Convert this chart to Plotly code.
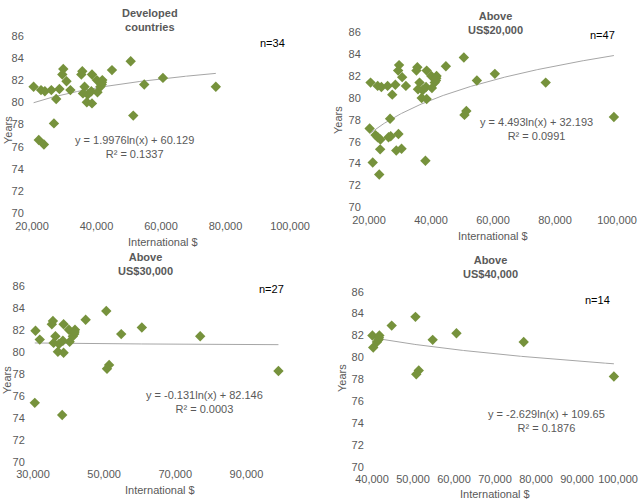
import numpy as np
import plotly.graph_objects as go

# ---------------- data ----------------
# Developed countries (34)
dev_income = [20500, 22800, 24000, 26000, 28500, 27500, 26800, 22100, 23700,
               29700, 29400, 30700, 31900, 35300, 35600, 36300, 35800, 37300,
               37000, 38600, 38400, 38600, 40100, 40300, 41200, 41600, 41800,
               41700, 44800, 50600, 51400, 54800, 60600, 77000]
dev_life = [81.4, 81.1, 81.0, 81.1, 81.2, 80.3, 78.1, 76.6, 76.2,
            83.0, 82.5, 81.9, 81.1, 82.5, 82.8, 81.4, 80.8, 80.7,
            80.0, 79.9, 81.0, 82.5, 82.0, 80.9, 81.4, 81.6, 82.0,
            81.8, 82.9, 83.7, 78.8, 81.6, 82.2, 81.4]
# Other countries above US$20,000 (13)
oth_income = [20200, 21200, 22800, 23600, 23300, 26300, 27000, 29500, 28800,
              30500, 38200, 50800, 99000]
oth_life = [77.2, 74.1, 76.4, 75.3, 73.0, 76.4, 76.5, 76.7, 75.2,
            75.35, 74.25, 78.45, 78.25]

panel_titles = ["Developed<br>countries", "Above<br>US$20,000",
                "Above<br>US$30,000", "Above<br>US$40,000"]
panel_n = ["n=34", "n=47", "n=27", "n=14"]
thresholds = [None, 20000, 30000, 40000]
fit_a = [1.9976, 4.493, -0.131, -2.629]
fit_b = [60.129, 32.193, 82.146, 109.65]
r2_text = ["0.1337", "0.0991", "0.0003", "0.1876"]
eq_text = ["y = 1.9976ln(x) + 60.129", "y = 4.493ln(x) + 32.193",
           "y = -0.131ln(x) + 82.146", "y = -2.629ln(x) + 109.65"]
x_ranges = [[20000, 100000], [20000, 100000], [30000, 100000], [40000, 100000]]
x_ticks = [[20000, 40000, 60000, 80000, 100000],
           [20000, 40000, 60000, 80000, 100000],
           [30000, 50000, 70000, 90000],
           [40000, 50000, 60000, 70000, 80000, 90000, 100000]]
y_ticks = [70, 72, 74, 76, 78, 80, 82, 84, 86]

# ---------------- layout geometry (pixels) ----------------
W, H = 639, 503
geo = [
    dict(x=(32, 290), y=(35.7, 213.3), title=(150, 20), n=(272, 43), eq=(134, 147), yt=(8, 130), xt=(163, 242)),
    dict(x=(369, 617), y=(32.3, 207.3), title=(495, 23), n=(602, 35), eq=(536, 129), yt=(338, 120), xt=(493, 236)),
    dict(x=(33, 282), y=(285.7, 461.7), title=(145, 264), n=(271, 289), eq=(204, 402), yt=(7, 380), xt=(160, 490)),
    dict(x=(372, 618), y=(291.7, 466.7), title=(490, 267), n=(597, 300), eq=(546, 421), yt=(342, 378), xt=(495, 494)),
]

GREEN = "#76923C"
GREY = "#595959"
FONT = "Liberation Sans, Arial, sans-serif"

def px(x):
    return x / W

def py(y):
    return 1 - y / H

all_income = np.array(dev_income + oth_income, dtype=float)
all_life = np.array(dev_life + oth_life, dtype=float)

fig = go.Figure()
annotations = []
for i in range(4):
    if thresholds[i] is None:
        xs = np.array(dev_income, dtype=float)
        ys = np.array(dev_life, dtype=float)
    else:
        m = all_income > thresholds[i]
        xs, ys = all_income[m], all_life[m]
    suffix = "" if i == 0 else str(i + 1)
    xa, ya = "x" + suffix, "y" + suffix
    xl = np.linspace(xs.min(), xs.max(), 200)
    yl = fit_a[i] * np.log(xl) + fit_b[i]
    fig.add_trace(go.Scatter(x=xl, y=yl, mode="lines", xaxis=xa, yaxis=ya,
                             line=dict(color="#A6A6A6", width=1), hoverinfo="skip",
                             showlegend=False))
    fig.add_trace(go.Scatter(x=xs, y=ys, mode="markers", xaxis=xa, yaxis=ya,
                             marker=dict(symbol="diamond", size=8, color=GREEN,
                                         line=dict(width=0)),
                             cliponaxis=False, showlegend=False))
    g = geo[i]
    axx = dict(domain=[px(g["x"][0]), px(g["x"][1])], range=x_ranges[i],
               tickvals=x_ticks[i], tickformat=",d", showgrid=False, zeroline=False,
               showline=False, ticks="outside", ticklen=2, tickcolor="rgba(0,0,0,0)",
               tickfont=dict(family=FONT, size=11, color=GREY),
               ticklabeloverflow="allow", automargin=False, anchor=ya)
    axy = dict(domain=[py(g["y"][1]), py(g["y"][0])], range=[70, 86],
               tickvals=y_ticks, showgrid=False, zeroline=False, showline=False,
               ticks="outside", ticklen=5, tickcolor="rgba(0,0,0,0)",
               tickfont=dict(family=FONT, size=11, color=GREY),
               ticklabeloverflow="allow", automargin=False, anchor=xa)
    fig.update_layout(**{"xaxis" + suffix: axx, "yaxis" + suffix: axy})

    def ann(text, pos, color=GREY, size=11, angle=0, bold=False):
        annotations.append(dict(text=("<b>%s</b>" % text) if bold else text,
                                x=px(pos[0]), y=py(pos[1]), xref="paper", yref="paper",
                                xanchor="center", yanchor="middle", showarrow=False,
                                textangle=angle,
                                font=dict(family=FONT, size=size, color=color)))
    ann(panel_titles[i], g["title"], bold=True)
    ann(panel_n[i], g["n"], color="#000000")
    ann(eq_text[i] + "<br>R² = " + r2_text[i], g["eq"])
    ann("Years", g["yt"], angle=-90)
    ann("International $", g["xt"])

fig.update_layout(width=W, height=H, autosize=False,
                  margin=dict(l=0, r=0, t=0, b=0),
                  paper_bgcolor="white", plot_bgcolor="white",
                  annotations=annotations, showlegend=False)

fig.write_html("out.html",
               config={"displayModeBar": False},
               post_script="document.body.style.margin='0';"
                           "document.body.style.overflow='hidden';")
